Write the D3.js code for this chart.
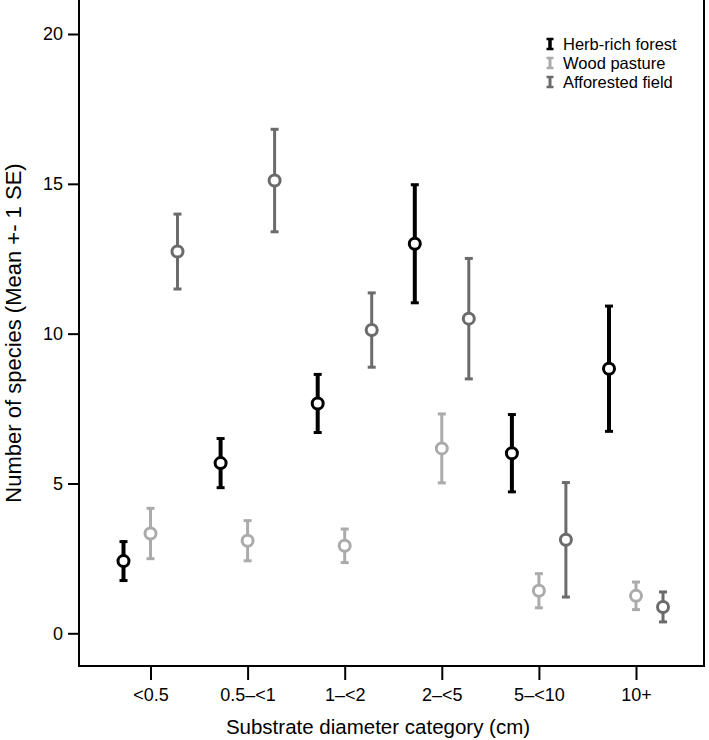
<!DOCTYPE html>
<html>
<head>
<meta charset="utf-8">
<script src="https://cdn.jsdelivr.net/npm/d3@7"></script>
<style>
  html, body { margin: 0; padding: 0; background: #fff; }
  svg { display: block; font-family: "Liberation Sans", Arial, sans-serif; }
</style>
</head>
<body>
<svg id="chart" width="709" height="740"></svg>
<script>
const categories = ["<0.5", "0.5\u2013<1", "1\u2013<2", "2\u2013<5", "5\u2013<10", "10+"];
const seriesNames = ["Herb-rich forest", "Wood pasture", "Afforested field"];
const herbMean = [2.41, 5.68, 7.67, 13.0, 6.01, 8.83];
const herbSE   = [0.65, 0.82, 0.97, 1.97, 1.29, 2.09];
const woodMean = [3.33, 3.09, 2.92, 6.17, 1.42, 1.25];
const woodSE   = [0.84, 0.67, 0.56, 1.15, 0.57, 0.46];
const affMean  = [12.74, 15.11, 10.12, 10.5, 3.12, 0.88];
const affSE    = [1.25, 1.71, 1.24, 2.01, 1.91, 0.50];
const yTicks = [0, 5, 10, 15, 20];

const series = [
  { name: seriesNames[0], mean: herbMean, se: herbSE, color: "#000000", width: 4, offset: -27 },
  { name: seriesNames[1], mean: woodMean, se: woodSE, color: "#ababab", width: 3, offset: 0 },
  { name: seriesNames[2], mean: affMean,  se: affSE,  color: "#6b6b6b", width: 3, offset: 27 }
];

const frame = { left: 79, right: 704, top: 0, bottom: 666 };
const svg = d3.select("#chart");

const x = d3.scalePoint().domain(categories).range([150.5, 636]);
const y = d3.scaleLinear().domain([0, 20]).range([633.3, 34]);

// frame
svg.append("path")
  .attr("d", `M${frame.left},${frame.top}V${frame.bottom}H${frame.right}V${frame.top}`)
  .attr("fill", "none").attr("stroke", "#000").attr("stroke-width", 2);

// y axis
const yAxis = svg.append("g").attr("transform", `translate(${frame.left},0)`)
  .call(d3.axisLeft(y).tickValues(yTicks).tickSize(11).tickPadding(5));
yAxis.select(".domain").remove();
yAxis.selectAll(".tick line").attr("stroke", "#000").attr("stroke-width", 2);
yAxis.selectAll(".tick text").attr("font-size", 18).attr("fill", "#000")
  .attr("font-family", "Liberation Sans, Arial, sans-serif");

// x axis
const xAxis = svg.append("g").attr("transform", `translate(0,${frame.bottom})`)
  .call(d3.axisBottom(x).tickSize(14).tickPadding(8));
xAxis.select(".domain").remove();
xAxis.selectAll(".tick line").attr("stroke", "#000").attr("stroke-width", 2);
xAxis.selectAll(".tick text").attr("font-size", 18).attr("fill", "#000")
  .attr("font-family", "Liberation Sans, Arial, sans-serif");

// titles
svg.append("text").attr("x", 378).attr("y", 734).attr("text-anchor", "middle")
  .attr("font-size", 20.5).text("Substrate diameter category (cm)");
svg.append("text").attr("transform", "translate(21,333) rotate(-90)")
  .attr("text-anchor", "middle").attr("font-size", 22)
  .text("Number of species (Mean +- 1 SE)");

// error bars + points
const capW = 8;
series.forEach(s => {
  const g = svg.append("g");
  categories.forEach((c, i) => {
    const cx = x(c) + s.offset;
    const lo = y(s.mean[i] - s.se[i]);
    const hi = y(s.mean[i] + s.se[i]);
    g.append("line").attr("x1", cx).attr("x2", cx).attr("y1", lo).attr("y2", hi)
      .attr("stroke", s.color).attr("stroke-width", s.width);
    [lo, hi].forEach(yy => {
      g.append("line").attr("x1", cx - capW / 2).attr("x2", cx + capW / 2)
        .attr("y1", yy).attr("y2", yy)
        .attr("stroke", s.color).attr("stroke-width", 3);
    });
    g.append("circle").attr("cx", cx).attr("cy", y(s.mean[i])).attr("r", 5.5)
      .attr("fill", "#fff").attr("stroke", s.color).attr("stroke-width", 3);
  });
});

// legend
const leg = svg.append("g").attr("transform", "translate(550,44)");
series.forEach((s, i) => {
  const gy = i * 19;
  const r = leg.append("g").attr("transform", `translate(0,${gy})`);
  r.append("line").attr("x1", 0).attr("x2", 0).attr("y1", -5).attr("y2", 5)
    .attr("stroke", s.color).attr("stroke-width", i === 0 ? 3.5 : 3);
  r.append("line").attr("x1", -3.5).attr("x2", 3.5).attr("y1", -5).attr("y2", -5)
    .attr("stroke", s.color).attr("stroke-width", 2.5);
  r.append("line").attr("x1", -3.5).attr("x2", 3.5).attr("y1", 5).attr("y2", 5)
    .attr("stroke", s.color).attr("stroke-width", 2.5);
  r.append("text").attr("x", 13).attr("y", 0).attr("dy", "0.35em")
    .attr("font-size", 16.5).attr("fill", "#000").text(s.name);
});
</script>
</body>
</html>
